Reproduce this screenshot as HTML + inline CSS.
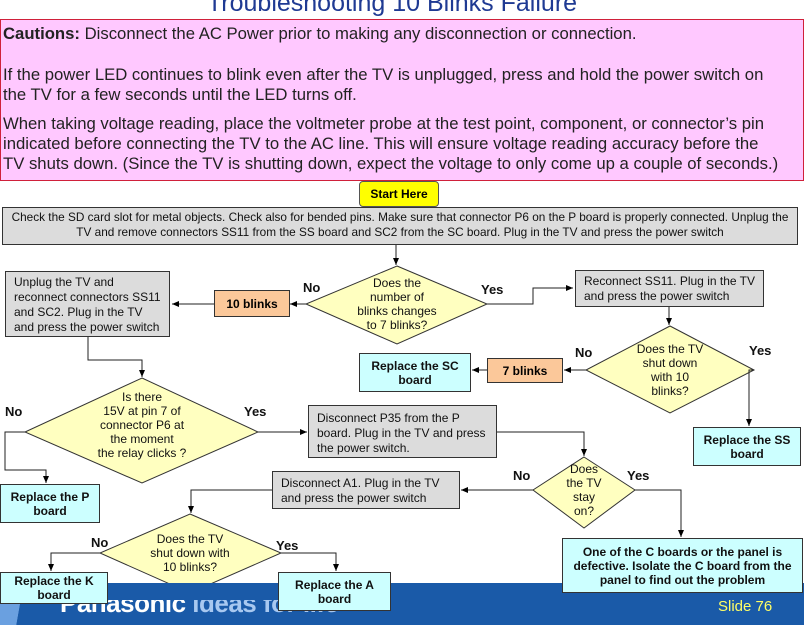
<!DOCTYPE html>
<html><head><meta charset="utf-8"><style>
body{margin:0;width:804px;height:625px;position:relative;overflow:hidden;background:#fff;font-family:"Liberation Sans",Arial,sans-serif;}
.a{position:absolute;box-sizing:border-box;}
.g{background:#dcdcdc;border:1px solid #333;font-size:12px;line-height:15px;padding:3px 8px;color:#111;}
.b{background:#ccffff;border:1px solid #333;font-size:12px;font-weight:bold;line-height:14px;text-align:center;display:flex;align-items:center;justify-content:center;color:#111;}
.o{background:#fbc89a;border:1px solid #333;font-size:12px;font-weight:bold;text-align:center;display:flex;align-items:center;justify-content:center;}
.t{font-size:12px;line-height:14px;text-align:center;color:#111;}
.l{font-size:13px;font-weight:bold;color:#111;}
</style></head><body>
<div class="a" style="left:0;top:-11px;width:784px;text-align:center;font-size:25px;color:#1f3a93;">Troubleshooting 10 Blinks Failure</div>
<div class="a" style="left:0;top:19px;width:804px;height:162px;background:#ffc8ff;border:1px solid #d0203a;font-size:16.7px;color:#222;padding:4px 0 0 2px;line-height:20px;white-space:nowrap;">
<div><b>Cautions:</b> Disconnect the AC Power prior to making any disconnection or connection.</div>
<div style="margin-top:21px">If the power LED continues to blink even after the TV is unplugged, press and hold the power switch on<br>the TV for a few seconds until the LED turns off.</div>
<div style="margin-top:9px">When taking voltage reading, place the voltmeter probe at the test point, component, or connector’s pin<br>indicated before connecting the TV to the AC line. This will ensure voltage reading accuracy before the<br>TV shuts down. (Since the TV is shutting down, expect the voltage to only come up a couple of seconds.)</div>
</div>
<div class="a" style="left:359px;top:181px;width:80px;height:26px;background:#ffff00;border:1px solid #555;border-radius:4px;font-size:12px;font-weight:bold;display:flex;align-items:center;justify-content:center;">Start Here</div>
<div class="a g" style="left:2px;top:207px;width:796px;height:38px;text-align:center;font-size:11.8px;line-height:15px;padding:2px 6px;">Check the SD card slot for metal objects. Check also for bended pins. Make sure that connector P6 on the P board is properly connected. Unplug the TV and remove connectors SS11 from the SS board and SC2 from the SC board. Plug in the TV and press the power switch</div>

<svg class="a" style="left:0;top:0" width="804" height="625">
<defs><marker id="m" markerWidth="8" markerHeight="8" refX="7" refY="4" orient="auto" markerUnits="userSpaceOnUse"><path d="M0,1 L7,4 L0,7z" fill="#000"/></marker></defs>
<g fill="#ffffc0" stroke="#333" stroke-width="1">
<polygon points="397,266 487,304 397,344 306,304"/>
<polygon points="670,326 754,370 670,413 586,370"/>
<polygon points="142,378 258,432 142,483 25,432"/>
<polygon points="584,457 635,490 584,528 533,490"/>
<polygon points="190,514 281,553 190,593 100,553"/>
</g>
<g stroke="#222" stroke-width="1" fill="none">
<path d="M396,245 V265" marker-end="url(#m)"/>
<path d="M306,304 H290" marker-end="url(#m)"/>
<path d="M214,304 H172" marker-end="url(#m)"/>
<path d="M487,304 H533 V288 H573" marker-end="url(#m)"/>
<path d="M669,307 V325" marker-end="url(#m)"/>
<path d="M586,370 H564" marker-end="url(#m)"/>
<path d="M487,370 H472" marker-end="url(#m)"/>
<path d="M754,370 H749 V426" marker-end="url(#m)"/>
<path d="M88,337 V360 H142 V377" marker-end="url(#m)"/>
<path d="M25,432 H5 V470 H46 V483" marker-end="url(#m)"/>
<path d="M258,432 H307" marker-end="url(#m)"/>
<path d="M497,432 H584 V456" marker-end="url(#m)"/>
<path d="M533,490 H461" marker-end="url(#m)"/>
<path d="M635,490 H681 V537" marker-end="url(#m)"/>
<path d="M272,490 H191 V513" marker-end="url(#m)"/>
<path d="M100,553 H51 V571" marker-end="url(#m)"/>
<path d="M281,553 H336 V571" marker-end="url(#m)"/>
</g>
</svg>

<div class="a t" style="left:347px;top:276px;width:100px;">Does the<br>number of<br>blinks changes<br>to 7 blinks?</div>
<div class="a t" style="left:620px;top:342px;width:100px;">Does the TV<br>shut down<br>with 10<br>blinks?</div>
<div class="a t" style="left:82px;top:390px;width:120px;">Is there<br>15V at pin 7 of<br>connector P6 at<br>the moment<br>the relay clicks ?</div>
<div class="a t" style="left:554px;top:462px;width:60px;">Does<br>the TV<br>stay<br>on?</div>
<div class="a t" style="left:140px;top:532px;width:100px;">Does the TV<br>shut down with<br>10 blinks?</div>

<div class="a l" style="left:303px;top:280px">No</div>
<div class="a l" style="left:481px;top:282px">Yes</div>
<div class="a l" style="left:575px;top:345px">No</div>
<div class="a l" style="left:749px;top:343px">Yes</div>
<div class="a l" style="left:5px;top:404px">No</div>
<div class="a l" style="left:244px;top:404px">Yes</div>
<div class="a l" style="left:513px;top:468px">No</div>
<div class="a l" style="left:627px;top:468px">Yes</div>
<div class="a l" style="left:91px;top:535px">No</div>
<div class="a l" style="left:276px;top:538px">Yes</div>

<div class="a g" style="left:5px;top:271px;width:165px;height:66px;">Unplug the TV and reconnect connectors SS11 and SC2. Plug in the TV and press the power switch</div>
<div class="a o" style="left:214px;top:290px;width:76px;height:27px;">10 blinks</div>
<div class="a g" style="left:575px;top:270px;width:189px;height:37px;">Reconnect SS11. Plug in the TV and press the power switch</div>
<div class="a o" style="left:487px;top:358px;width:76px;height:25px;">7 blinks</div>
<div class="a b" style="left:359px;top:353px;width:112px;height:39px;">Replace the SC<br>board</div>
<div class="a b" style="left:693px;top:427px;width:108px;height:39px;">Replace the SS<br>board</div>
<div class="a g" style="left:308px;top:405px;width:189px;height:53px;padding-top:5px;">Disconnect P35 from the P board. Plug in the TV and press the power switch.</div>
<div class="a b" style="left:0;top:484px;width:100px;height:39px;">Replace the P<br>board</div>
<div class="a g" style="left:272px;top:471px;width:188px;height:38px;padding-top:4px;">Disconnect A1. Plug in the TV and press the power switch</div>

<div class="a" style="left:0;top:583px;width:804px;height:42px;background:#1a5aa8;"></div>
<div class="a" style="left:0;top:598px;width:30px;height:27px;background:linear-gradient(100deg,#6aa0e0 60%,#1a5aa8 61%);"></div>
<div class="a" style="left:60px;top:600px;width:300px;height:25px;overflow:hidden;">
<div style="position:absolute;top:-12px;left:0;font-size:26px;font-weight:bold;white-space:nowrap;color:#fff;letter-spacing:-0.5px;">Panasonic <span style="color:#a8c8f0">ideas for life</span></div></div>
<div class="a" style="left:718px;top:598px;font-size:15px;color:#ffff66;">Slide 76</div>

<div class="a b" style="left:0;top:572px;width:108px;height:32px;">Replace the K<br>board</div>
<div class="a b" style="left:278px;top:572px;width:113px;height:39px;">Replace the A<br>board</div>
<div class="a b" style="left:562px;top:538px;width:241px;height:55px;">One of the C boards or the panel is defective. Isolate the C board from the panel to find out the problem</div>
</body></html>
